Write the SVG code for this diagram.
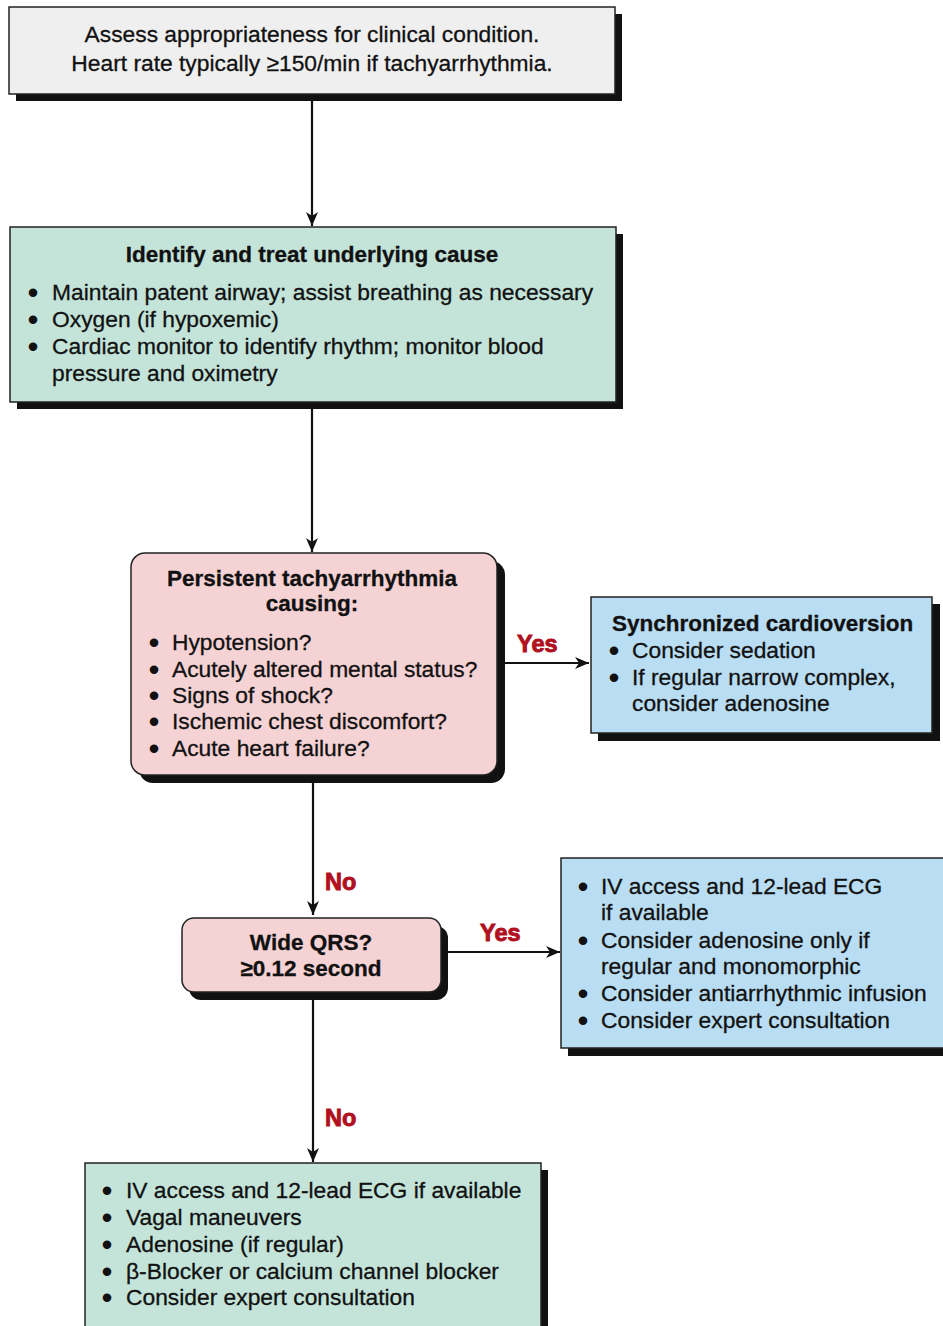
<svg xmlns="http://www.w3.org/2000/svg" width="943" height="1326" viewBox="0 0 943 1326">
<defs>
<marker id="ah" viewBox="0 0 14 12" refX="14" refY="6" markerWidth="14" markerHeight="12" markerUnits="userSpaceOnUse" orient="auto">
<path d="M0,0 L14,6 L0,12 L4,6 z" fill="#111"/>
</marker>
</defs>
<style>
text{font-family:"Liberation Sans",Arial,Helvetica,sans-serif;font-size:22.8px;fill:#111;stroke:#111;stroke-width:0.3}
.b{font-weight:bold;font-size:22.5px}
.c{text-anchor:middle}
.d{font-size:22.8px;font-weight:bold;stroke-width:2}
.lbl{font-weight:bold;fill:#b01020;stroke:#b01020;stroke-width:0.9;font-size:23.5px}
.sh{fill:#111}
.box{stroke:#222;stroke-width:1.5}
.conn{stroke:#111;stroke-width:2.2;fill:none}
</style>
<rect width="943" height="1326" fill="#fff"/>

<g id="connectors">
<line class="conn" x1="312" y1="101" x2="312" y2="226" marker-end="url(#ah)"/>
<line class="conn" x1="312" y1="409" x2="312" y2="552" marker-end="url(#ah)"/>
<line class="conn" x1="505" y1="663" x2="589" y2="663" marker-end="url(#ah)"/>
<line class="conn" x1="313" y1="782" x2="313" y2="915" marker-end="url(#ah)"/>
<line class="conn" x1="448" y1="952" x2="560" y2="952" marker-end="url(#ah)"/>
<line class="conn" x1="313" y1="1000" x2="313" y2="1162" marker-end="url(#ah)"/>
<text class="lbl" x="517" y="652">Yes</text>
<text class="lbl" x="325" y="890">No</text>
<text class="lbl" x="480" y="941">Yes</text>
<text class="lbl" x="325" y="1126">No</text>
</g>

<g id="n1">
<rect class="sh" x="16" y="14" width="606" height="87"/>
<rect class="box" x="9" y="7" width="606" height="87" fill="#efefef"/>
<text class="c" x="312" y="42">Assess appropriateness for clinical condition.</text>
<text class="c" x="312" y="71">Heart rate typically ≥150/min if tachyarrhythmia.</text>
</g>

<g id="n2">
<rect class="sh" x="17" y="234" width="606" height="175"/>
<rect class="box" x="10" y="227" width="606" height="175" fill="#c4e4da"/>
<text class="b c" x="312" y="262">Identify and treat underlying cause</text>
<text class="d" x="29" y="300">•</text><text x="52" y="300">Maintain patent airway; assist breathing as necessary</text>
<text class="d" x="29" y="327">•</text><text x="52" y="327">Oxygen (if hypoxemic)</text>
<text class="d" x="29" y="354">•</text><text x="52" y="354">Cardiac monitor to identify rhythm; monitor blood</text>
<text x="52" y="381">pressure and oximetry</text>
</g>

<g id="n3">
<rect class="sh" x="139" y="561" width="366" height="222" rx="14"/>
<rect class="box" x="131" y="553" width="366" height="222" rx="14" fill="#f5d2d4"/>
<text class="b c" x="312" y="586">Persistent tachyarrhythmia</text>
<text class="b c" x="312" y="611">causing:</text>
<text class="d" x="150" y="650">•</text><text x="172" y="650">Hypotension?</text>
<text class="d" x="150" y="677">•</text><text x="172" y="677">Acutely altered mental status?</text>
<text class="d" x="150" y="703">•</text><text x="172" y="703">Signs of shock?</text>
<text class="d" x="150" y="729">•</text><text x="172" y="729">Ischemic chest discomfort?</text>
<text class="d" x="150" y="756">•</text><text x="172" y="756">Acute heart failure?</text>
</g>

<g id="n4">
<rect class="sh" x="598" y="604" width="342" height="137"/>
<rect class="box" x="591" y="597" width="341" height="136" fill="#b9ddf3"/>
<text class="b" x="612" y="631">Synchronized cardioversion</text>
<text class="d" x="610" y="658">•</text><text x="632" y="658">Consider sedation</text>
<text class="d" x="610" y="685">•</text><text x="632" y="685">If regular narrow complex,</text>
<text x="632" y="711">consider adenosine</text>
</g>

<g id="n5">
<rect class="sh" x="189" y="926" width="259" height="74" rx="12"/>
<rect class="box" x="182" y="918" width="259" height="74" rx="12" fill="#f5d2d4"/>
<text class="b c" x="311" y="950">Wide QRS?</text>
<text class="b c" x="311" y="976">≥0.12 second</text>
</g>

<g id="n6">
<rect class="sh" x="568" y="866" width="380" height="190"/>
<rect class="box" x="561" y="858" width="390" height="190" fill="#b9ddf3"/>
<text class="d" x="579" y="894">•</text><text x="601" y="894">IV access and 12-lead ECG</text>
<text x="601" y="920">if available</text>
<text class="d" x="579" y="948">•</text><text x="601" y="948">Consider adenosine only if</text>
<text x="601" y="974">regular and monomorphic</text>
<text class="d" x="579" y="1001">•</text><text x="601" y="1001">Consider antiarrhythmic infusion</text>
<text class="d" x="579" y="1028">•</text><text x="601" y="1028">Consider expert consultation</text>
</g>

<g id="n7">
<rect class="sh" x="92" y="1170" width="456" height="162"/>
<rect class="box" x="85" y="1163" width="456" height="170" fill="#c4e4da"/>
<text class="d" x="103" y="1198">•</text><text x="126" y="1198">IV access and 12-lead ECG if available</text>
<text class="d" x="103" y="1225">•</text><text x="126" y="1225">Vagal maneuvers</text>
<text class="d" x="103" y="1252">•</text><text x="126" y="1252">Adenosine (if regular)</text>
<text class="d" x="103" y="1279">•</text><text x="126" y="1279">β-Blocker or calcium channel blocker</text>
<text class="d" x="103" y="1305">•</text><text x="126" y="1305">Consider expert consultation</text>
</g>
</svg>
